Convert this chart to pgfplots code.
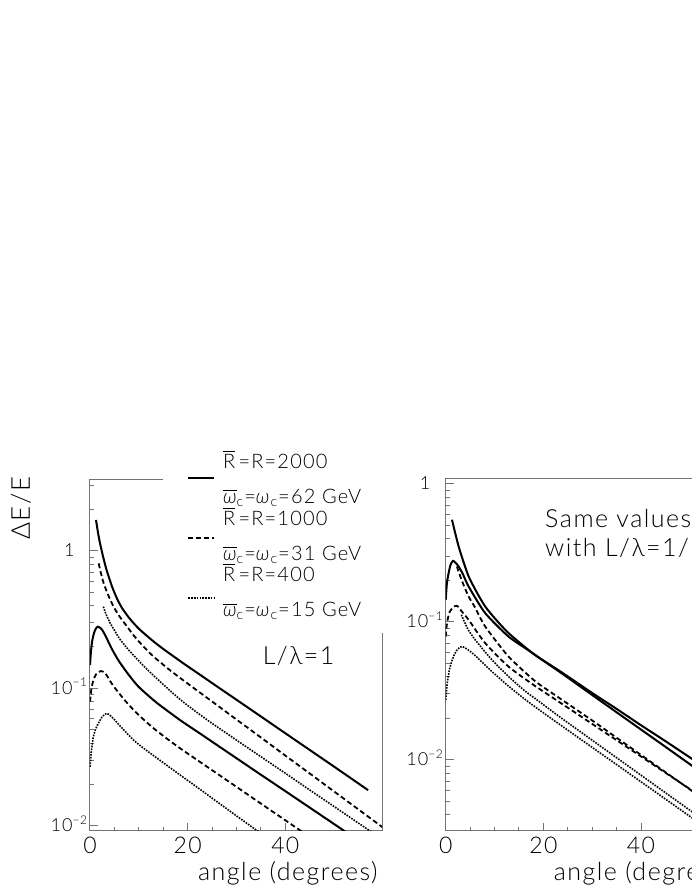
\documentclass[border=0pt]{standalone}
\usepackage{fontspec}
\setmainfont{Lato}[UprightFont=* Light, ItalicFont=* Light Italic, LetterSpace=6]
\usepackage{pgfplots}
\pgfplotsset{compat=1.18}
\usepackage{pgfplotstable}

% left panel, L/lambda = 1
\pgfplotstableread{
x y
1.23 1.683
1.6 1.384
2.0 1.161
2.6 0.935
3.3 0.7464
4.0 0.6237
4.65 0.5346
5.5 0.4529
6.5 0.3873
8.07 0.3236
10.0 0.2716
12.85 0.2218
15.0 0.1936
19.0 0.1531
22.0 0.1294
26.0 0.1033
30.0 0.0826
35.0 0.0624
40.0 0.0471
45.0 0.0356
50.0 0.0269
56.95 0.01816
}\lsolA
\pgfplotstableread{
x y
1.78 0.8128
2.2 0.6966
2.8 0.5821
3.6 0.4898
4.65 0.4046
5.8 0.3436
7.5 0.2844
9.44 0.2312
12.5 0.1770
16.27 0.1365
20.0 0.1084
25.0 0.0802
30.0 0.0593
35.0 0.0439
40.0 0.0324
45.0 0.0240
50.0 0.01774
55.0 0.01312
60.0 0.00970
}\ldasA
\pgfplotstableread{
x y
2.73 0.3936
3.3 0.3451
4.2 0.2953
5.0 0.2645
6.0 0.2312
8.0 0.1888
11.5 0.1396
15.0 0.1067
19.0 0.0800
24.0 0.0589
30.0 0.0420
35.0 0.0318
40.0 0.0241
45.0 0.0182
50.0 0.01378
55.0 0.01043
60.0 0.00790
}\ldotA
\pgfplotstableread{
x y
0 0.1479
0.2 0.1862
0.45 0.2213
0.8 0.2512
1.15 0.2704
1.57 0.2812
2.0 0.2773
2.5 0.2661
3.28 0.2371
4.5 0.1928
6.0 0.1563
8.0 0.1245
10.0 0.1023
13.5 0.0794
18.46 0.0587
22.0 0.0483
26.0 0.0387
30.0 0.0310
35.0 0.0235
40.0 0.01786
45.0 0.01355
50.0 0.01028
55.0 0.0078
}\lsolB
\pgfplotstableread{
x y
0 0.0800
0.3 0.1000
0.7 0.1148
1.2 0.1259
1.7 0.1312
2.26 0.1337
2.7 0.1321
3.2 0.1279
4.65 0.1057
6.5 0.0871
8.07 0.0750
10.0 0.0638
12.65 0.0525
15.5 0.0437
18.46 0.0366
22.0 0.0300
26.0 0.0240
30.0 0.01919
35.0 0.01449
40.0 0.01096
45.0 0.00828
}\ldasB
\pgfplotstableread{
x y
0 0.02685
0.25 0.0339
0.6 0.0427
1.1 0.0501
1.71 0.0556
2.5 0.0621
3.4 0.0658
4.2 0.0631
5.0 0.0592
5.8 0.0550
7.5 0.0473
9.5 0.0403
12.65 0.0331
18.46 0.0234
22.0 0.0190
26.0 0.01496
30.0 0.01180
35.0 0.00879
}\ldotB

% right panel, smaller L/lambda
\pgfplotstableread{
x y
1.29 0.5508
1.8 0.4624
2.65 0.3524
3.6 0.2754
4.69 0.2138
6.2 0.1679
8.08 0.1294
10.2 0.1047
12.86 0.0830
16.9 0.0628
19.24 0.0546
23.7 0.0425
30.0 0.0295
35.0 0.0221
40.0 0.01656
45.0 0.01242
50.0 0.00929
55.0 0.00697
60.0 0.00521
}\rsolA
\pgfplotstableread{
x y
0 0.1445
0.25 0.1905
0.6 0.226
1.0 0.260
1.49 0.277
2.0 0.269
2.65 0.252
3.5 0.2228
4.69 0.1807
8.08 0.1159
12.86 0.0783
16.9 0.0624
19.24 0.0546
23.7 0.0432
30.0 0.0305
35.0 0.0234
40.0 0.0178
45.0 0.01365
50.0 0.0104
55.0 0.00794
60.0 0.00603
}\rsolB
\pgfplotstableread{
x y
2.3 0.252
3.3 0.1995
4.69 0.1528
6.0 0.1274
8.08 0.0927
12.86 0.0561
18.3 0.0372
23.0 0.0285
30.0 0.01928
35.0 0.01445
40.0 0.01084
45.0 0.00813
50.0 0.0061
55.0 0.00457
60.0 0.00343
}\rdasA
\pgfplotstableread{
x y
0 0.0783
0.3 0.100
0.8 0.1175
1.5 0.1274
2.3 0.1309
3.2 0.1202
4.69 0.1035
8.08 0.0702
12.86 0.0474
18.3 0.0343
23.0 0.0266
30.0 0.01820
35.0 0.01387
40.0 0.01057
45.0 0.00805
50.0 0.00614
55.0 0.00468
60.0 0.00356
}\rdasB
\pgfplotstableread{
x y
3.2 0.1127
4.5 0.0891
6.04 0.0741
9.45 0.0531
13.0 0.0398
16.2 0.0316
19.24 0.0263
23.0 0.0209
30.0 0.01387
35.0 0.01035
40.0 0.00773
45.0 0.00577
50.0 0.00431
55.0 0.00321
60.0 0.00240
}\rdotA
\pgfplotstableread{
x y
0 0.0272
0.3 0.0355
0.8 0.0457
1.6 0.0562
2.4 0.0631
3.33 0.0664
4.5 0.0631
6.04 0.0569
9.45 0.0437
13.0 0.0339
16.2 0.0275
19.24 0.0229
23.0 0.0184
30.0 0.0123
35.0 0.00923
40.0 0.00692
45.0 0.00519
50.0 0.00389
55.0 0.00292
60.0 0.00219
}\rdotB

\tikzset{
  sol/.style={black, line width=1pt, smooth, tension=0.4},
  das/.style={black, line width=0.9pt, dash pattern=on 2.5pt off 1.5pt, smooth, tension=0.4},
  dot/.style={black, line width=0.8pt, dash pattern=on 0.8pt off 0.6pt, smooth, tension=0.4},
  frm/.style={black!55, line width=0.5pt},
}
\pgfplotsset{
  every axis/.append style={
    scale only axis, width=146.5pt, height=175.85pt,
    xmin=0, xmax=60, clip mode=individual,
    xtick={0,20,40}, minor x tick num=3,
    ytick={0.01,0.1,1},
    yticklabels={10\textsuperscript{−2},10\textsuperscript{−1},1},
    minor ytick={0.002,0.003,0.004,0.005,0.006,0.007,0.008,0.009,
      0.02,0.03,0.04,0.05,0.06,0.07,0.08,0.09,
      0.2,0.3,0.4,0.5,0.6,0.7,0.8,0.9,2,3},
    tick pos=left, tick align=inside,
    major tick length=4pt, minor tick length=2pt,
    axis line style={frm},
    tick style={frm},
    /pgf/number format/assume math mode=true,
    xticklabel style={font=\fontsize{11.5}{12}\selectfont, inner sep=0pt, yshift=-3pt},
    yticklabel style={font=\fontsize{9}{10}\selectfont, anchor=base, xshift=-10.3pt, yshift=-3pt},
    xlabel={angle (degrees)},
    xlabel style={font=\fontsize{12.5}{14}\selectfont, inner sep=0pt, at={(axis description cs:0.983,-0.12)}, anchor=east},
  },
}

\begin{document}
\begin{tikzpicture}
\begin{semilogyaxis}[
  at={(45pt,32.65pt)}, anchor=south west,
  ymin=0.0092, ymax=3.34,
  axis x line*=bottom, axis y line*=left,
  ylabel={ΔE/E},
  ylabel style={font=\fontsize{13}{16}\selectfont, inner sep=0pt, at={(axis description cs:-0.2355,0.9175)}, anchor=center},
  legend image code/.code={\draw[#1] (0pt,0pt) -- (13pt,0pt);},
  legend style={draw=none, fill=none, at={(axis description cs:0.331,1.007)}, anchor=north west,
    inner sep=0pt, row sep=28.35pt, column sep=0pt, nodes={inner sep=0pt}},
]
\addplot[sol] table[x=x,y=y] {\lsolA};
\addlegendentry{\mbox{}}
\addplot[das] table[x=x,y=y] {\ldasA};
\addlegendentry{\mbox{}}
\addplot[dot] table[x=x,y=y] {\ldotA};
\addlegendentry{\mbox{}}
\addplot[sol, forget plot] table[x=x,y=y] {\lsolB};
\addplot[das, forget plot] table[x=x,y=y] {\ldasB};
\addplot[dot, forget plot] table[x=x,y=y] {\ldotB};
% partial frame, the rest is hidden by the legend
\draw[frm] (rel axis cs:0,1) -- (rel axis cs:0.249,1);
\draw[frm] (rel axis cs:1,0) -- (rel axis cs:1,0.562);
% legend texts
\begin{scope}[every node/.style={anchor=base west, inner sep=0pt, font=\fontsize{10}{12}\selectfont}]
\node at (axis description cs:0.4529,1.0304) {$\overline{\mbox{R}}$\,=R=2000};
\node at (axis description cs:0.4529,0.9309) {$\overline{\mbox{\itshape ω}}$\textsubscript{c}=\textit{ω}\textsubscript{c}=62 GeV};
\node at (axis description cs:0.4529,0.8692) {$\overline{\mbox{R}}$\,=R=1000};
\node at (axis description cs:0.4529,0.7697) {$\overline{\mbox{\itshape ω}}$\textsubscript{c}=\textit{ω}\textsubscript{c}=31 GeV};
\node at (axis description cs:0.4529,0.7080) {$\overline{\mbox{R}}$\,=R=400};
\node at (axis description cs:0.4529,0.6085) {$\overline{\mbox{\itshape ω}}$\textsubscript{c}=\textit{ω}\textsubscript{c}=15 GeV};
\end{scope}
\node[anchor=base west, inner sep=0pt, font=\fontsize{12.5}{14}\selectfont] at (axis cs:35.3,0.148) {L/λ=1};
\end{semilogyaxis}

\begin{semilogyaxis}[
  at={(222.85pt,32.65pt)}, anchor=south west,
  ymin=0.00306, ymax=1.087,
]
\addplot[sol] table[x=x,y=y] {\rsolA};
\addplot[sol] table[x=x,y=y] {\rsolB};
\addplot[das] table[x=x,y=y] {\rdasA};
\addplot[das] table[x=x,y=y] {\rdasB};
\addplot[dot] table[x=x,y=y] {\rdotA};
\addplot[dot] table[x=x,y=y] {\rdotB};
\node[anchor=base west, inner sep=0pt, font=\fontsize{12.5}{14}\selectfont] at (axis cs:20.3,0.48) {Same values};
\node[anchor=base west, inner sep=0pt, font=\fontsize{12.5}{14}\selectfont] at (axis cs:20.3,0.298) {with L/λ=1/2};
\end{semilogyaxis}

\pgfresetboundingbox
\path[use as bounding box] (0pt,0pt) rectangle (346pt,448pt);
\end{tikzpicture}
\end{document}
